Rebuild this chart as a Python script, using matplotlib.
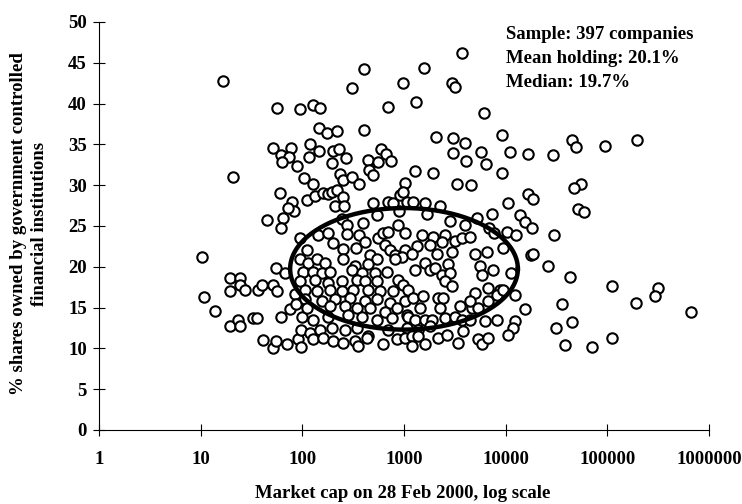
import numpy as np
import matplotlib
matplotlib.use('Agg')
import matplotlib.pyplot as plt

# --- data (market cap, % held by govt-controlled FIs) ---
# left tail, small caps
cap_small = [10.4, 10.8, 13.7, 19.3, 24.5, 19.3, 24.5, 27.5, 19.3, 23.3, 24.2, 32.7, 35.7, 37, 40,
             40.8, 51, 54.5, 56, 52, 54.5, 61, 68, 70, 75, 84, 87, 90, 98, 100]
pct_small = [21.2, 16.3, 14.6, 18.6, 18.6, 17.0, 17.8, 17.1, 12.7, 13.5, 12.8, 13.7, 13.7, 17.1, 17.8,
             11.0, 17.8, 19.9, 17.0, 10.1, 10.9, 13.9, 19.3, 10.5, 14.8, 16.7, 15.5, 11.1, 10.2, 13.9]

# upper band (~29-47%)
cap_top = [16.7, 403, 310, 968, 56, 94, 126, 149, 690, 406, 146, 173, 220, 51, 78, 119, 61, 74, 63, 88,
           117, 147, 200, 229, 194, 270, 105, 128, 234, 252, 305, 363, 445, 593, 659, 550, 738, 455, 491,
           21, 1020, 60,
           1570, 3680, 2940, 3170, 1310, 6150, 2050, 3000, 3970, 9120, 3000, 5700, 4030, 6390, 11000,
           16600, 29300, 45400, 49700, 95900, 198000, 1280, 1940, 9120, 3340, 4520, 55700, 46900]
pct_top = [42.8, 44.2, 41.9, 42.5, 39.5, 39.3, 39.8, 39.5, 39.6, 36.8, 37.0, 36.4, 36.6, 34.6, 34.6, 35.1,
           33.7, 33.4, 32.8, 32.4, 33.5, 34.2, 34.2, 34.4, 32.7, 33.3, 30.9, 30.1, 31.4, 30.6, 31.0, 30.1,
           33.1, 34.4, 33.8, 32.8, 33.0, 31.9, 31.3, 31.0, 30.3, 29.0,
           44.4, 46.2, 42.5, 42.0, 40.2, 38.9, 35.9, 35.8, 35.2, 36.2, 34.0, 34.1, 33.0, 32.6, 34.1,
           33.8, 33.7, 35.5, 34.7, 34.8, 35.5, 31.7, 31.5, 31.5, 30.2, 30.0, 30.1, 29.6]

# middle band (~21-29%)
cap_mid = [78.5, 83, 73, 65, 44.5, 61, 110, 133, 161, 180, 194, 217, 249, 209, 256, 498, 537, 700, 783,
           912, 985, 898, 1060, 248, 272, 391, 144, 180, 272, 362, 95, 110, 201, 249, 341, 412, 557, 625,
           700, 878, 1020, 649, 727, 814, 1020, 946, 462, 537,
           16400, 18600, 10600, 1230, 1600, 2250, 1670, 2830, 3970, 5170, 7380, 6840, 7710, 13800, 15500,
           18000, 10200, 12500, 1490, 1940, 2530, 3170, 3680, 4450, 1330, 1800, 2340, 2090, 2940, 4980,
           6490, 9460, 17700, 1190]
pct_mid = [27.9, 26.8, 27.2, 26.0, 25.7, 24.8, 28.2, 28.7, 29.0, 28.9, 29.2, 29.4, 28.5, 27.4, 27.5, 27.8,
           26.3, 28.0, 27.8, 28.8, 29.2, 26.8, 28.0, 25.9, 25.1, 25.4, 23.9, 24.1, 24.0, 23.9, 23.5, 22.1,
           22.9, 22.2, 22.3, 23.1, 23.5, 24.1, 24.3, 25.1, 24.1, 22.7, 22.1, 21.4, 22.1, 21.2, 21.4, 21.0,
           28.9, 28.3, 27.8, 27.9, 27.8, 27.4, 26.5, 25.6, 25.1, 26.0, 26.5, 24.7, 24.1, 26.3, 25.5,
           24.7, 24.3, 23.9, 23.9, 23.7, 23.9, 23.2, 23.5, 23.6, 22.5, 22.7, 23.1, 21.6, 21.8, 21.6,
           21.8, 22.3, 21.5, 21.6]

# dense core (~10-21%), 100 to 1000
cap_core_a = [95, 114, 138, 167, 253, 329, 445, 814, 102, 128, 155, 187, 305, 383, 518, 674,
              95, 133, 180, 243, 342, 413, 537, 878, 983, 106, 138, 187, 243, 317, 445, 580, 784,
              106, 155, 209, 294, 413, 537, 727, 1020, 110, 187, 262, 342, 462, 649, 845,
              128, 180, 283, 383, 537, 755, 1060, 98, 119, 149, 194, 262, 342, 445, 700, 1060,
              128, 161, 201, 253, 329, 355, 429, 625, 845, 1020]
pct_core_a = [20.9, 20.5, 20.9, 20.5, 20.9, 20.1, 20.3, 20.9, 19.4, 19.4, 19.2, 19.4, 19.6, 19.2, 19.2, 19.4,
              18.2, 18.4, 18.0, 18.2, 18.4, 18.2, 18.2, 18.4, 17.8, 17.2, 17.0, 17.2, 17.0, 17.2, 17.2, 17.0, 17.0,
              16.0, 15.8, 16.0, 16.2, 15.8, 16.0, 15.6, 15.8, 15.0, 15.2, 15.2, 15.0, 15.0, 14.5, 15.0,
              13.5, 13.9, 14.1, 13.9, 13.5, 13.7, 14.1, 12.3, 11.9, 12.3, 12.5, 12.3, 12.5, 11.5, 12.3, 12.5,
              11.1, 11.3, 10.9, 10.7, 10.9, 10.3, 11.3, 10.5, 11.1, 11.3]

# dense core, 1000 to 15000
cap_core_b = [1280, 1600, 1800, 2010, 2340, 2720, 2830, 2520, 2940, 5580, 5790, 7540, 6730, 8770, 11400, 12300,
              1100, 1230, 1550, 1430, 2170, 2430, 2250, 3550, 4620, 4980, 4450, 5370, 6730, 8130, 9460, 15500,
              1100, 1280, 1600, 1870, 1380, 1800, 2520, 3170, 3680, 4450, 6240, 8130, 12300, 11900, 10600,
              1190, 1380, 1600, 1190, 2170, 2620, 3420, 3820, 5370, 5790, 6730]
pct_core_b = [19.6, 20.5, 19.6, 19.9, 19.0, 20.3, 19.2, 18.2, 17.6, 20.1, 19.0, 19.6, 17.4, 17.2, 19.2, 16.6,
              17.2, 16.2, 16.4, 15.0, 16.2, 16.2, 15.0, 15.2, 15.0, 16.8, 15.8, 15.0, 15.8, 16.6, 17.2, 14.8,
              13.9, 13.5, 13.5, 13.5, 12.3, 12.7, 13.7, 13.9, 13.5, 13.5, 13.3, 13.5, 13.3, 12.5, 11.7,
              11.5, 11.5, 10.5, 10.3, 11.3, 11.7, 10.7, 12.1, 11.1, 10.5, 11.3]

# right tail, large caps
cap_large = [51600, 59200, 29800, 18500, 26200, 43400, 110000, 316000, 293000, 191000, 662000,
             35500, 45100, 31000, 38200, 71000, 110000]
pct_large = [27.1, 26.7, 23.9, 21.6, 20.1, 18.7, 17.6, 17.4, 16.4, 15.6, 14.4,
             15.4, 13.2, 12.5, 10.4, 10.2, 11.3]

x_ticks = [1, 10, 100, 1000, 10000, 100000, 1000000]
x_tick_labels = ['1', '10', '100', '1000', '10000', '100000', '1000000']
y_ticks = [0, 5, 10, 15, 20, 25, 30, 35, 40, 45, 50]
notes = ['Sample: 397 companies', 'Mean holding: 20.1%', 'Median: 19.7%']

# ellipse around the core (centre in log10 cap, semi-axes in decades / % points)
ELL_CX, ELL_CY = 3.0, 19.75
ELL_A, ELL_B = 1.12, 7.45

FS = 13.5

plt.rcParams['font.family'] = ['Liberation Serif', 'DejaVu Serif']
plt.rcParams['font.weight'] = 'bold'

cap = cap_small + cap_top + cap_mid + cap_core_a + cap_core_b + cap_large
pct = pct_small + pct_top + pct_mid + pct_core_a + pct_core_b + pct_large

fig = plt.figure(figsize=(7.42, 5.04), dpi=100)
ax = fig.add_axes([99 / 742, 1 - 430 / 504, 610 / 742, 408 / 504])

ax.scatter(cap, pct, s=7.5 ** 2, facecolor='white', edgecolor='black', linewidth=1.5, zorder=3,
           clip_on=False)

t = np.linspace(0, 2 * np.pi, 300)
ax.plot(10 ** (ELL_CX + ELL_A * np.cos(t)), ELL_CY + ELL_B * np.sin(t), color='black', lw=3.2, zorder=4)

ax.set_xscale('log')
ax.set_xlim(1, 1000000)
ax.set_ylim(0, 50)
ax.set_xticks(x_ticks)
ax.set_xticklabels(x_tick_labels)
ax.xaxis.set_minor_locator(matplotlib.ticker.NullLocator())
ax.set_yticks(y_ticks)
ax.tick_params(axis='both', direction='inout', length=8.5, width=0.8, labelsize=FS)
ax.tick_params(axis='x', pad=11)
ax.tick_params(axis='y', pad=4.5)
for lab in ax.get_xticklabels() + ax.get_yticklabels():
    lab.set_fontweight('bold')

ax.spines['top'].set_visible(False)
ax.spines['right'].set_visible(False)
ax.spines['left'].set_linewidth(0.8)
ax.spines['bottom'].set_linewidth(0.8)

# x label sits at the very bottom edge, keep descenders inside
fig.text(403 / 742, 1 - 498.5 / 504, 'Market cap on 28 Feb 2000, log scale',
         ha='center', va='baseline', fontsize=FS, fontweight='bold')
fig.text(29 / 742, 1 - 224 / 504, '% shares owned by government controlled\nfinancial institutions',
         ha='center', va='center', rotation=90, fontsize=FS, fontweight='bold', linespacing=1.25)

for i, note in enumerate(notes):
    fig.text(506 / 742, 1 - (39 + 24 * i) / 504, note, ha='left', va='baseline',
             fontsize=FS, fontweight='bold')

fig.savefig('out.png', dpi=100)
